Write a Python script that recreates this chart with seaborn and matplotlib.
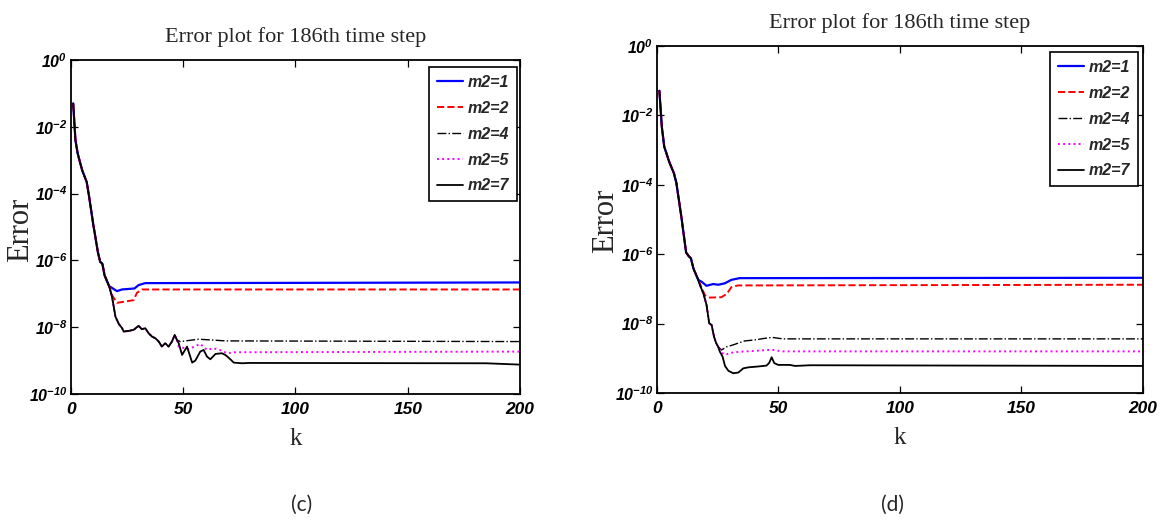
import numpy as np
import matplotlib
matplotlib.use('Agg')
import matplotlib.pyplot as plt
import seaborn as sns
from matplotlib.ticker import NullLocator

# values are log10(Error)

# ---- panel (c) ----
c_common_k = [1, 2, 3, 5, 7, 8, 10, 12, 13, 14, 15, 17]
c_common_e = [-1.3, -2.4, -2.8, -3.3, -3.65, -4.05, -4.95, -5.75, -6.04, -6.1, -6.45, -6.77]

c_m1_k = [18, 20.5, 22.7, 28.3, 30.1, 33.1, 200]
c_m1_e = [-6.81, -6.92, -6.87, -6.84, -6.74, -6.68, -6.66]

c_m2_k = [18.3, 20.5, 27.9, 29.4, 31.6, 200]
c_m2_e = [-7.04, -7.27, -7.19, -6.97, -6.87, -6.87]

# m2=4,5,7 lie on top of each other until k~47
c_low_k = [18.3, 19.8, 21.3, 22.8, 23.5, 25.7, 27.9, 30.1, 31.6, 33.1, 34.6, 36.1,
           37.6, 39.1, 40.5, 42, 43.5, 45, 46.2, 47.2]
c_low_e = [-7.09, -7.68, -7.9, -8.03, -8.13, -8.11, -8.08, -7.96, -8.06, -8.03, -8.18, -8.28,
           -8.33, -8.43, -8.58, -8.48, -8.58, -8.43, -8.23, -8.38]

c_m4_k = [48.7, 56.9, 62.1, 68.8, 200]
c_m4_e = [-8.43, -8.36, -8.38, -8.41, -8.43]

c_m5_k = [48, 52.4, 57.6, 60.6, 63.5, 67.2, 69.5, 73.2, 200]
c_m5_e = [-8.58, -8.66, -8.5, -8.68, -8.63, -8.7, -8.78, -8.75, -8.73]

c_m7_k = [48, 49.5, 51.7, 54, 55.4, 57.6, 59.1, 60.6, 62.1, 64.4, 67.2, 68.8, 71, 72.5,
          76.2, 79.2, 185, 200]
c_m7_e = [-8.48, -8.83, -8.58, -9.06, -9.0, -8.73, -8.68, -8.88, -8.96, -8.8, -8.78, -8.83,
          -8.96, -9.06, -9.08, -9.07, -9.08, -9.12]

# ---- panel (d) ----
d_common_k = [1, 2, 3, 5, 7, 8, 10, 12, 13, 14, 15, 17]
d_common_e = [-1.29, -2.32, -2.9, -3.33, -3.67, -3.95, -4.9, -5.95, -6.05, -6.12, -6.41, -6.74]

d_m1_k = [18.3, 20.4, 23.1, 25.2, 27.9, 30.6, 34, 200]
d_m1_e = [-6.79, -6.91, -6.86, -6.88, -6.84, -6.74, -6.69, -6.68]

d_m2_k = [18.3, 19.7, 21.7, 26.5, 28.8, 30.6, 33.3, 200]
d_m2_e = [-6.95, -7.18, -7.25, -7.24, -7.14, -6.95, -6.9, -6.88]

d_low_k = [17.7, 19.1, 20.4, 21.5, 22.5, 23.5, 24.3, 25.2]
d_low_e = [-6.89, -7.13, -7.46, -7.99, -8.04, -8.38, -8.55, -8.67]

d_m4_k = [26.6, 28.6, 30.6, 34, 36.1, 40.2, 45.7, 47.7, 51.8, 200]
d_m4_e = [-8.76, -8.67, -8.63, -8.55, -8.5, -8.47, -8.41, -8.4, -8.44, -8.44]

d_m5_k = [26.6, 28, 30.6, 34, 39.5, 45.7, 47.7, 51.8, 200]
d_m5_e = [-8.84, -8.9, -8.84, -8.81, -8.79, -8.76, -8.76, -8.8, -8.8]

d_m7_k = [25.9, 27, 28, 29.4, 31.4, 33.5, 35.5, 37.6, 41, 45.1, 46.2, 47.2, 48.3, 49.9,
          54.7, 56.8, 63, 200]
d_m7_e = [-8.81, -8.95, -9.22, -9.36, -9.43, -9.41, -9.29, -9.26, -9.24, -9.21, -9.13, -8.97,
          -9.14, -9.19, -9.19, -9.22, -9.2, -9.22]

labels = ['m2=1', 'm2=2', 'm2=4', 'm2=5', 'm2=7']
colors = ['blue', 'red', 'black', 'magenta', 'black']
styles = ['-', '--', '-.', ':', '-']
widths = [1.6, 1.4, 1.0, 1.4, 1.3]
ytick_vals = [1e0, 1e-2, 1e-4, 1e-6, 1e-8, 1e-10]
xtick_vals = [0, 50, 100, 150, 200]

sns.set_style('ticks', {'axes.edgecolor': 'black', 'xtick.color': 'black', 'ytick.color': 'black',
                        'xtick.direction': 'in', 'ytick.direction': 'in',
                        'xtick.top': True, 'ytick.right': True})
plt.rcParams['font.family'] = ['Liberation Sans', 'DejaVu Sans']
plt.rcParams['font.weight'] = 'bold'
plt.rcParams['font.style'] = 'italic'

fig = plt.figure(figsize=(11.65, 5.22), dpi=100)
ax_c = fig.add_axes([0.0609, 0.2452, 0.3854, 0.6398])
ax_d = fig.add_axes([0.5639, 0.2471, 0.4172, 0.6648])


def series(common_k, common_e, low_k, low_e, tails):
    out = []
    for i, (tk, te) in enumerate(tails):
        if i < 2:
            k = common_k + tk
            e = common_e + te
        else:
            k = common_k + low_k + tk
            e = common_e + low_e + te
        out.append((np.array(k), 10 ** np.array(e)))
    return out


panels = [
    (ax_c, series(c_common_k, c_common_e, c_low_k, c_low_e,
                  [(c_m1_k, c_m1_e), (c_m2_k, c_m2_e), (c_m4_k, c_m4_e),
                   (c_m5_k, c_m5_e), (c_m7_k, c_m7_e)]),
     (0.9933, 0.979), (-0.079, 0.49)),
    (ax_d, series(d_common_k, d_common_e, d_low_k, d_low_e,
                  [(d_m1_k, d_m1_e), (d_m2_k, d_m2_e), (d_m4_k, d_m4_e),
                   (d_m5_k, d_m5_e), (d_m7_k, d_m7_e)]),
     (0.9897, 0.9827), (-0.075, 0.496)),
]

for ax, data, leg_anchor, ylab_pos in panels:
    ax.set_yscale('log')
    for (k, e), lab, col, ls, lw in zip(data, labels, colors, styles, widths):
        sns.lineplot(x=k, y=e, ax=ax, color=col, linestyle=ls, linewidth=lw, label=lab)
    ax.set_xlim(0, 200)
    ax.set_ylim(1e-10, 1)
    ax.set_xticks(xtick_vals)
    ax.set_yticks(ytick_vals)
    ax.yaxis.set_minor_locator(NullLocator())
    ax.tick_params(which='major', length=5, width=0.9)
    ax.tick_params(axis='x', labelsize=12.5, pad=6)
    ax.tick_params(axis='y', labelsize=11.5, pad=2.5)
    for sp in ax.spines.values():
        sp.set_linewidth(1.3)
    ax.set_title('Error plot for 186th time step', family='Liberation Serif', fontsize=16,
                 fontweight='normal', fontstyle='normal', pad=13)
    ax.set_xlabel('k', family='Liberation Serif', fontsize=18, fontweight='normal',
                  fontstyle='normal', labelpad=8)
    ax.set_ylabel('Error', family='Liberation Serif', fontsize=22, fontweight='normal',
                  fontstyle='normal')
    ax.yaxis.set_label_coords(*ylab_pos)
    leg = ax.legend(loc='upper right', bbox_to_anchor=leg_anchor, borderaxespad=0,
                    fontsize=11.5, handlelength=1.6, handletextpad=0.3, labelspacing=0.68,
                    borderpad=0.5, fancybox=False, framealpha=1, edgecolor='black')
    leg.get_frame().set_linewidth(1.2)

fig.text(302 / 1165, 1 - 505 / 522, '(c)', family='Lato', fontsize=15, fontweight='normal',
         fontstyle='normal', ha='center', va='center')
fig.text(892 / 1165, 1 - 505 / 522, '(d)', family='Lato', fontsize=15, fontweight='normal',
         fontstyle='normal', ha='center', va='center')

fig.savefig('out.png', dpi=100)
